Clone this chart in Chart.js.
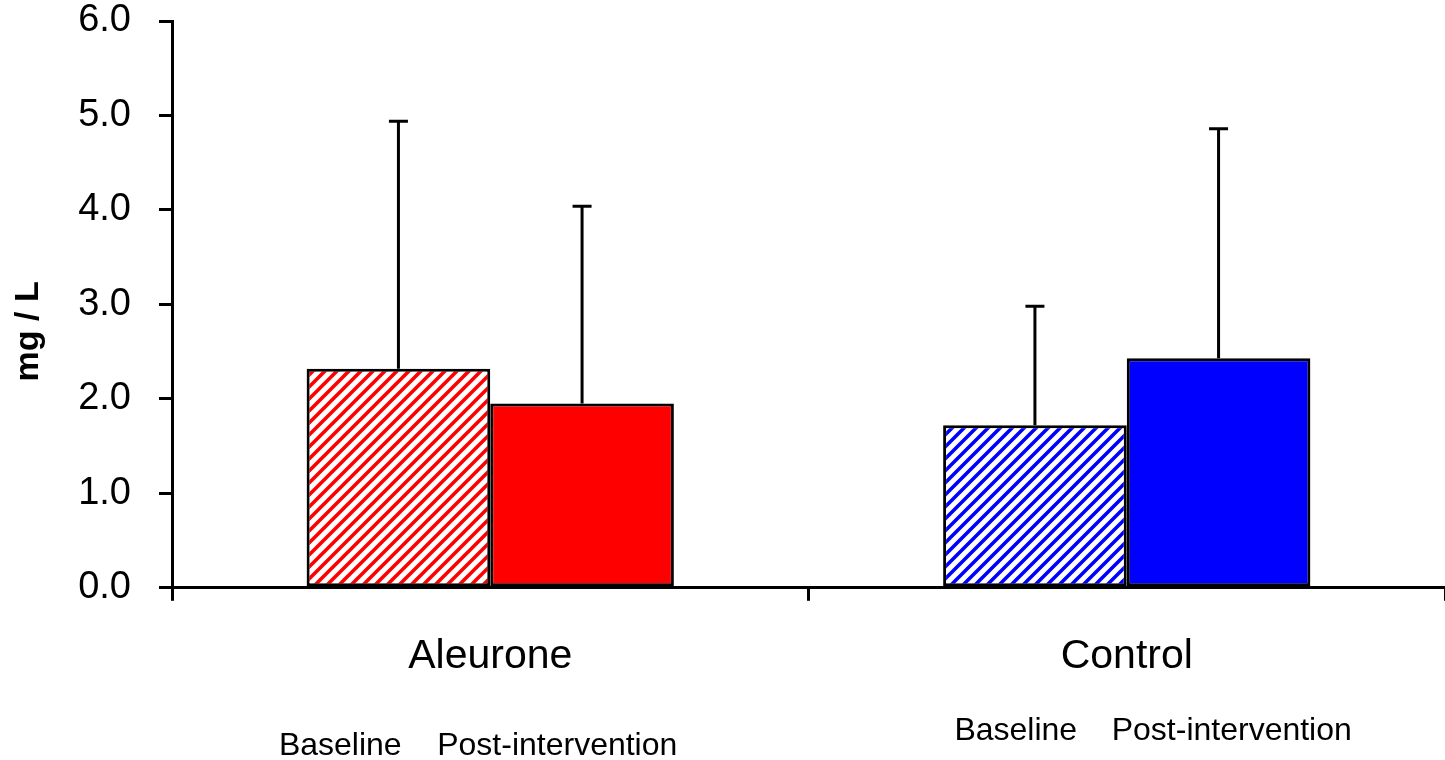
<!DOCTYPE html>
<html>
<head>
<meta charset="utf-8">
<title>mg / L</title>
<style>
  html, body { margin: 0; padding: 0; background: #fff; }
  #wrap { width: 1445px; height: 760px; position: relative; }
</style>
</head>
<body>
<div id="wrap"><canvas id="chart"></canvas></div>
<script src="https://cdn.jsdelivr.net/npm/chart.js"></script>
<script>
// values
const groups = ['Aleurone', 'Control'];
const seriesNames = ['Baseline', 'Post-intervention'];
const baseline = [2.32, 1.72];
const post = [1.95, 2.43];
const baselineSd = [2.62, 1.26];
const postSd = [2.09, 2.43];
const yTicks = [0, 1, 2, 3, 4, 5, 6];
const groupColors = ['#ff0000', '#0000ff'];
const yTitle = 'mg / L';

// where the small "Baseline / Post-intervention" captions sit under each group
const captionShift = [[-150, 67], [-111, 105]];
const captionY = [746, 731];

const FONT = '"Liberation Sans", Arial, sans-serif';
const LW = 3;

function hatch(color) {
    const c = document.createElement('canvas');
    c.width = 12;
    c.height = 12;
    const g = c.getContext('2d');
    g.fillStyle = '#fff';
    g.fillRect(0, 0, 12, 12);
    g.strokeStyle = color;
    g.lineWidth = 3.6;
    g.beginPath();
    g.moveTo(-3, 15); g.lineTo(15, -3);
    g.moveTo(-9, 9); g.lineTo(9, -9);
    g.moveTo(3, 21); g.lineTo(21, 3);
    g.stroke();
    return g.createPattern(c, 'repeat');
}

const errorBars = {
    id: 'errorBars',
    afterDatasetsDraw(chart) {
        const ctx = chart.ctx;
        const y = chart.scales.y;
        const sds = [baselineSd, postSd];
        ctx.save();
        ctx.strokeStyle = '#000';
        ctx.lineWidth = LW;
        chart.data.datasets.forEach((ds, di) => {
            chart.getDatasetMeta(di).data.forEach((bar, i) => {
                const top = y.getPixelForValue(ds.data[i] + sds[di][i]);
                ctx.beginPath();
                ctx.moveTo(bar.x, bar.y);
                ctx.lineTo(bar.x, top);
                ctx.moveTo(bar.x - 9.5, top);
                ctx.lineTo(bar.x + 9.5, top);
                ctx.stroke();
            });
        });
        ctx.restore();
    }
};

const texts = {
    id: 'texts',
    afterDraw(chart) {
        const ctx = chart.ctx;
        const x = chart.scales.x;
        const area = chart.chartArea;
        ctx.save();
        ctx.fillStyle = '#000';

        // y axis title
        ctx.save();
        ctx.translate(29, (area.top + area.bottom) / 2 + 27);
        ctx.rotate(-Math.PI / 2);
        ctx.font = 'bold 34px ' + FONT;
        ctx.textAlign = 'center';
        ctx.textBaseline = 'middle';
        ctx.fillText(yTitle, 0, 0);
        ctx.restore();

        // captions under each group
        ctx.font = '32px ' + FONT;
        ctx.textAlign = 'center';
        ctx.textBaseline = 'middle';
        groups.forEach((g, i) => {
            const cx = x.getPixelForValue(i);
            seriesNames.forEach((name, j) => {
                ctx.fillText(name, cx + captionShift[i][j], captionY[i]);
            });
        });
        ctx.restore();
    }
};

new Chart(document.getElementById('chart'), {
    type: 'bar',
    data: {
        labels: groups,
        datasets: [
            {
                label: seriesNames[0],
                data: baseline,
                backgroundColor: groupColors.map(hatch),
                borderColor: '#000',
                borderWidth: LW,
                borderSkipped: false
            },
            {
                label: seriesNames[1],
                data: post,
                backgroundColor: groupColors,
                borderColor: '#000',
                borderWidth: LW,
                borderSkipped: false
            }
        ]
    },
    options: {
        responsive: true,
        maintainAspectRatio: false,
        animation: false,
        events: [],
        layout: { padding: { left: 0, right: 0, top: 21, bottom: 48 } },
        categoryPercentage: 0.577,
        barPercentage: 1.0,
        plugins: {
            legend: { display: false },
            tooltip: { enabled: false }
        },
        scales: {
            x: {
                grid: { drawOnChartArea: false, color: '#000', lineWidth: LW, tickLength: 13 },
                border: { color: '#000', width: LW },
                ticks: { color: '#000', padding: 31, font: { family: FONT, size: 41 } }
            },
            y: {
                min: yTicks[0],
                max: yTicks[yTicks.length - 1],
                afterBuildTicks(scale) {
                    scale.ticks = yTicks.map(v => ({ value: v }));
                },
                afterFit(scale) {
                    scale.width = 172;
                    scale.paddingTop = 0;
                    scale.paddingBottom = 0;
                },
                grid: { drawOnChartArea: false, color: '#000', lineWidth: LW, tickLength: 13 },
                border: { color: '#000', width: LW },
                ticks: {
                    color: '#000',
                    padding: 28,
                    font: { family: FONT, size: 38 },
                    callback: v => Number(v).toFixed(1)
                }
            }
        }
    },
    plugins: [errorBars, texts]
});
</script>
</body>
</html>
